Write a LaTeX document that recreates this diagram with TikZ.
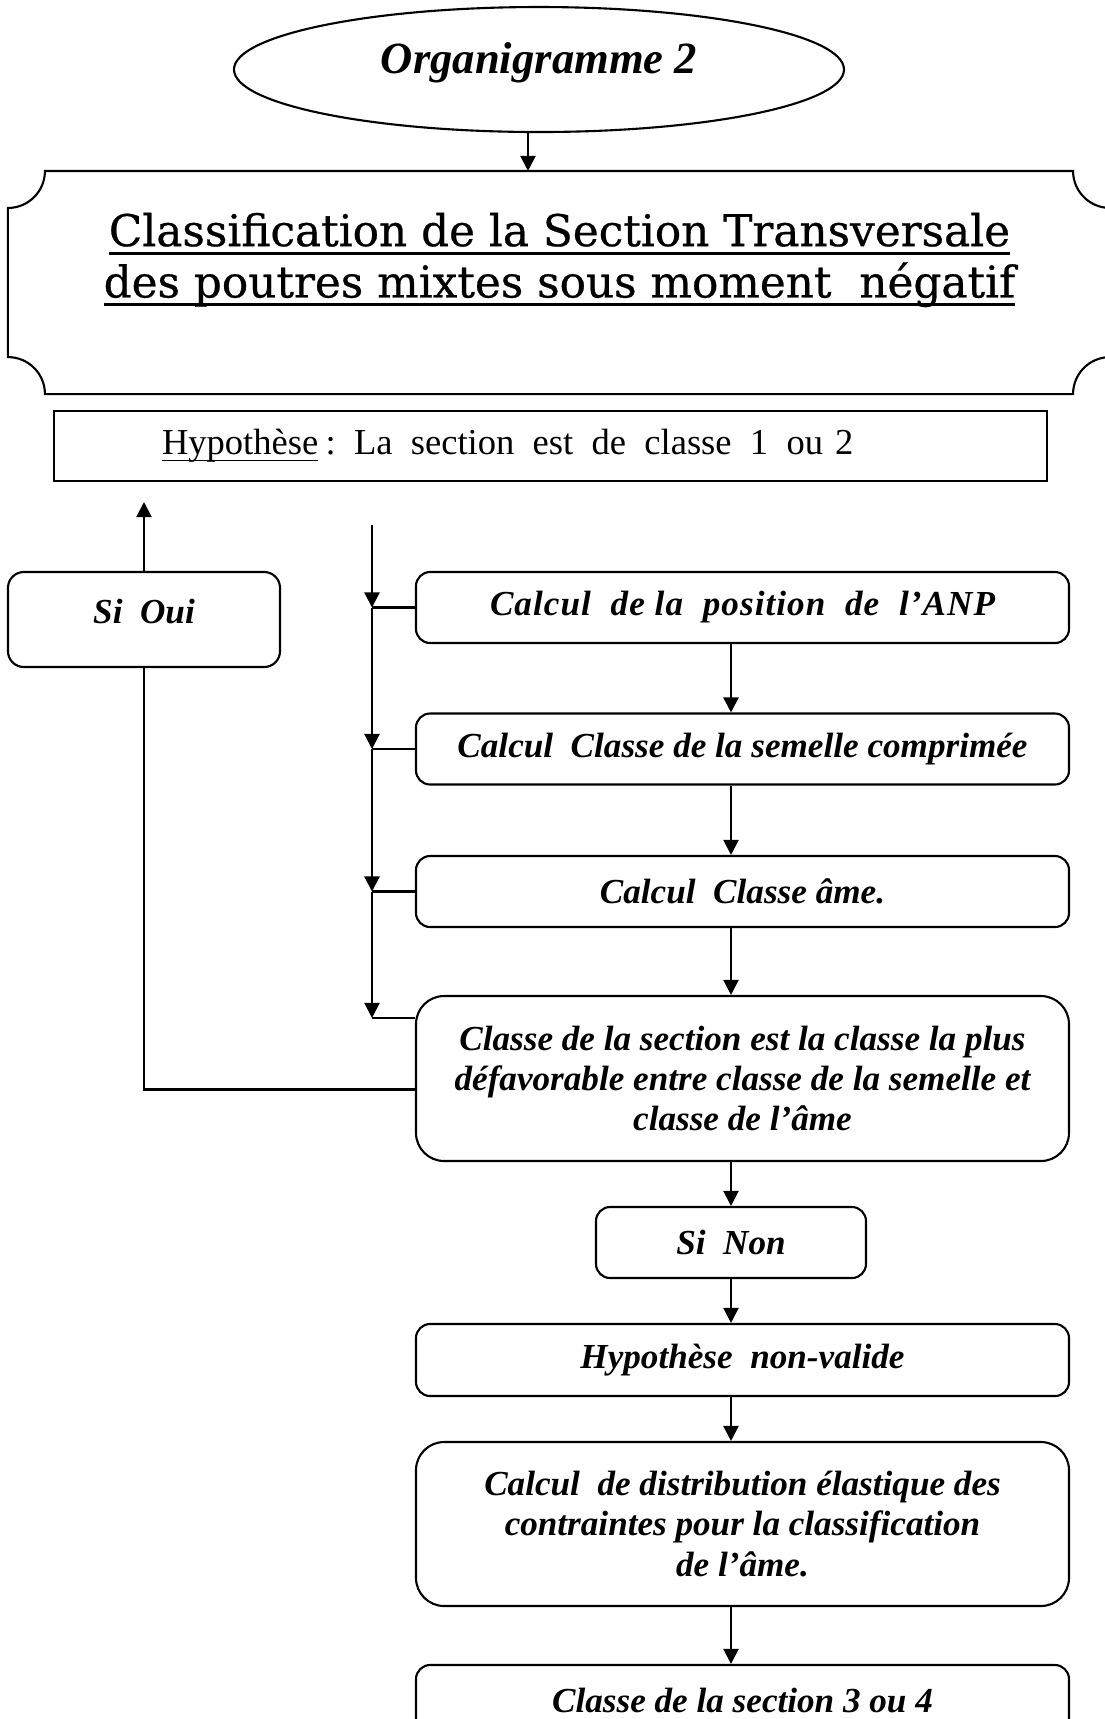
\documentclass[tikz,border=0pt]{standalone}
\usepackage{fontspec}
\setmainfont{Liberation Serif}
\newfontfamily\plaquefont[FakeBold=0.6]{DejaVu Serif}
\usetikzlibrary{shapes.geometric,arrows.meta}
\newsavebox\soulbox
% #1 profondeur, #2 epaisseur, #3 texte
\newcommand\souligne[3]{\leavevmode\sbox\soulbox{#3}\rlap{\rule[-#1]{\wd\soulbox}{#2}}\usebox\soulbox}
\newcommand\esp{\hspace{0.5em}}

\begin{document}
\begin{tikzpicture}[
                line width = 0.6pt,
                fleche/.style = {-{Triangle[length=4.3pt,width=4.3pt]}},
                boite/.style = {draw, rounded corners=4pt, inner sep=0pt,
                    minimum width=6.53cm, minimum height=0.71cm, align=center,
                    font=\fontsize{10}{11.4}\selectfont\bfseries\itshape}
                ]
                \useasboundingbox (0,0) rectangle (11.05,-17.19);
                % titre
                \node[draw, ellipse, inner sep=0pt, minimum width=6.10cm, minimum height=1.25cm,
                    text height=0.36cm, text depth=0.28cm,
                    font=\fontsize{12.7}{15}\selectfont\bfseries\itshape] (organi) at (5.39,-0.695) {Organigramme 2};
                \node[inner sep=0pt, minimum width=11cm, minimum height=2.21cm] (plaque) at (5.59,-2.825) {};
                \draw ([xshift=0.37cm]plaque.north west) -- ([xshift=-0.37cm]plaque.north east)
                    arc[start angle=180, end angle=270, radius=0.37cm]
                    -- ([yshift=0.37cm]plaque.south east)
                    arc[start angle=90, end angle=180, radius=0.37cm]
                    -- ([xshift=0.37cm]plaque.south west)
                    arc[start angle=0, end angle=90, radius=0.37cm]
                    -- ([yshift=-0.37cm]plaque.north west)
                    arc[start angle=-90, end angle=0, radius=0.37cm] -- cycle;
                \node[align=center, inner sep=0pt, font=\plaquefont\fontsize{12.45}{14.6}\selectfont]
                    (titre) at (5.595,-2.60)
                    {\souligne{2.4pt}{0.85pt}{Classification de la Section Transversale}\\
                     \souligne{2.4pt}{0.85pt}{des poutres mixtes sous moment\ \ négatif}};
                \draw[fleche] ([xshift=-0.11cm]organi.south) -- ([xshift=-0.11cm]organi.south |- plaque.north);
                % hypothese
                \node[draw, inner xsep=1.08cm, inner ysep=0pt, text width=7.77cm, minimum height=0.70cm, align=left,
                    font=\fontsize{10.4}{12}\selectfont]
                    (hypo) at (5.505,-4.46)
                    {\souligne{1.9pt}{0.45pt}{Hypothèse}\hspace{0.2em}: La\esp section\esp est\esp de\esp classe\esp 1\esp ou 2};
                % colonne de droite
                \node[boite] (position) at (7.425,-6.075) {\addfontfeature{LetterSpace=3}Calcul\ \ de la\ \ position\ \ de\ \ l’ANP};
                \node[boite] (semelle) at (7.425,-7.49) {Calcul\ \ Classe de la semelle comprimée};
                \node[boite] (ame) at (7.425,-8.915) {Calcul\ \ Classe âme.};
                \node[boite, minimum height=1.65cm, rounded corners=8pt] (classe) at (7.425,-10.785)
                    {Classe de la section est la classe la plus\\ défavorable entre classe de la semelle et\\ classe de l’âme};
                \node[boite, minimum width=2.70cm] (sinon) at (7.31,-12.425) {Si\ \ Non};
                \node[boite, minimum height=0.72cm] (nonvalide) at (7.425,-13.60) {Hypothèse\ \ non-valide};
                \node[boite, minimum height=1.64cm, rounded corners=8pt] (elastique) at (7.425,-15.24)
                    {Calcul\ \ de distribution élastique des\\ contraintes pour la classification\\ de l’âme.};
                \node[boite] (classe34) at (7.425,-17.005) {Classe de la section 3 ou 4};
                \foreach \a/\b in {position/semelle, semelle/ame, ame/classe, classe/sinon,
                    sinon/nonvalide, nonvalide/elastique, elastique/classe34}
                    \draw[fleche] (\a.south -| sinon) -- (\b.north -| sinon);
                % boucle si oui
                \node[boite, minimum width=2.72cm, minimum height=0cm, text height=0.51cm, text depth=0.44cm,
                    rounded corners=4.5pt] (sioui) at (1.44,-6.195) {Si\ \ Oui};
                \coordinate (retour) at (1.44,-5.02);
                \coordinate (depart) at (3.72,-5.25);
                \path ([yshift=-0.23cm]classe.north west) coordinate (k4);
                \coordinate (j1) at (depart |- position.west);
                \coordinate (j2) at (depart |- semelle.west);
                \coordinate (j3) at (depart |- ame.west);
                \coordinate (j4) at (depart |- k4);
                \draw[fleche] (depart) -- (j1);
                \draw[fleche] (j1) -- (j2);
                \draw[fleche] (j2) -- (j3);
                \draw[fleche] (j3) -- (j4);
                \draw (position.west) -- (j1);
                \draw (semelle.west) -- (j2);
                \draw (ame.west) -- (j3);
                \draw (k4) -- (j4);
                \draw ([yshift=-0.11cm]classe.west) -| (sioui.south);
                \draw[fleche] (sioui.north) -- (retour);
\end{tikzpicture}
\end{document}
